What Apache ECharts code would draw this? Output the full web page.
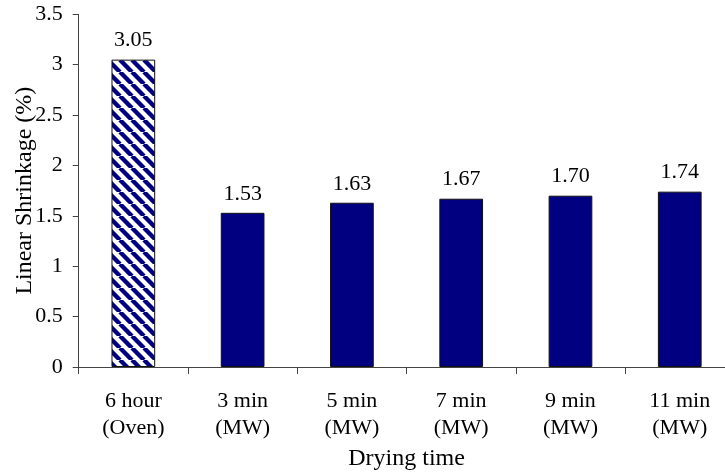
<!DOCTYPE html>
<html>
<head>
<meta charset="utf-8">
<script src="https://cdn.jsdelivr.net/npm/echarts@6/dist/echarts.min.js"></script>
<style>
html,body{margin:0;padding:0;background:#fff;overflow:hidden;}
#chart{width:725px;height:472px;}
</style>
</head>
<body>
<div id="chart"></div>
<script>
var categories = ['6 hour\n(Oven)', '3 min\n(MW)', '5 min\n(MW)', '7 min\n(MW)', '9 min\n(MW)', '11 min\n(MW)'];
var shrinkage = [3.05, 1.53, 1.63, 1.67, 1.70, 1.74];
var yTicks = [0, 0.5, 1, 1.5, 2, 2.5, 3, 3.5];

var FONT = '"Liberation Serif", "Times New Roman", serif';
var NAVY = '#000080';

// hatch pattern for oven bar
var tile = document.createElement('canvas');
tile.width = 12; tile.height = 12;
var ctx = tile.getContext('2d');
ctx.fillStyle = '#fff';
ctx.fillRect(0, 0, 12, 12);
ctx.strokeStyle = NAVY;
ctx.lineWidth = 4.4;
[-12, 0, 12].forEach(function (c) {
  ctx.beginPath();
  ctx.moveTo(c, 0);
  ctx.lineTo(c + 12, 12);
  ctx.stroke();
});

var data = shrinkage.map(function (v, i) {
  return {
    value: v,
    itemStyle: i === 0 ? { color: { image: tile, repeat: 'repeat' } } : { color: NAVY }
  };
});

var chart = echarts.init(document.getElementById('chart'), null, { renderer: 'canvas' });
chart.setOption({
  animation: false,
  backgroundColor: '#fff',
  grid: { left: 78.7, top: 14.3, height: 352.7, width: 655.7, containLabel: false, outerBoundsMode: 'none' },
  xAxis: {
    type: 'category',
    data: categories,
    name: 'Drying time',
    nameLocation: 'middle',
    nameGap: 80,
    nameMoveOverlap: false,
    nameTextStyle: { fontFamily: FONT, fontSize: 24, color: '#000' },
    axisLine: { lineStyle: { color: '#444', width: 1 } },
    axisTick: { show: true, alignWithLabel: false, length: 7, lineStyle: { color: '#444' } },
    axisLabel: { fontFamily: FONT, fontSize: 22, color: '#000', lineHeight: 27, margin: 21, interval: 0 }
  },
  yAxis: {
    type: 'value',
    min: 0,
    max: 3.5,
    interval: 0.5,
    name: 'Linear Shrinkage (%)',
    nameLocation: 'middle',
    nameGap: 42,
    nameMoveOverlap: false,
    nameTextStyle: { fontFamily: FONT, fontSize: 24, color: '#000' },
    axisLine: { show: true, lineStyle: { color: '#444', width: 1 } },
    axisTick: { show: true, length: 6, lineStyle: { color: '#444' } },
    splitLine: { show: false },
    axisLabel: {
      fontFamily: FONT, fontSize: 22, color: '#000', margin: 16,
      formatter: function (v) { return yTicks.indexOf(v) >= 0 ? String(v) : ''; }
    }
  },
  series: [{
    type: 'bar',
    data: data,
    barWidth: '40%',
    itemStyle: { borderColor: '#111', borderWidth: 1 },
    label: {
      show: true,
      position: 'top',
      distance: 8,
      fontFamily: FONT,
      fontSize: 22,
      color: '#000',
      formatter: function (p) { return p.value.toFixed(2); }
    }
  }]
});
</script>
</body>
</html>
